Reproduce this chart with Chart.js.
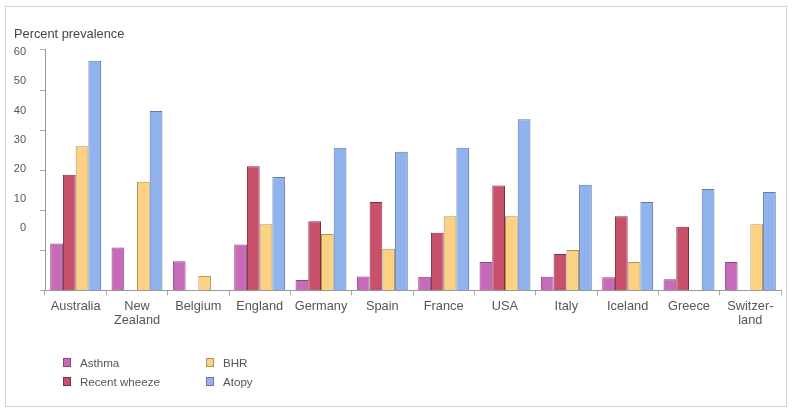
<!DOCTYPE html>
<html>
<head>
<meta charset="utf-8">
<script src="https://cdn.jsdelivr.net/npm/chart.js@4/dist/chart.umd.min.js"></script>
<style>
  html, body { margin: 0; padding: 0; background: #fff; }
  #wrap { position: relative; width: 796px; height: 412px; overflow: hidden; }
  #frame { position: absolute; left: 5px; top: 6px; width: 782px; height: 401px;
           border: 1px solid #d2d2d2; box-sizing: border-box; pointer-events: none; }
  canvas { position: absolute; left: 0; top: 0; }
  #legend { position: absolute; left: 0; top: 0; width: 796px; height: 412px; pointer-events: none;
            font-family: "Liberation Sans", Arial, sans-serif; font-size: 11.6px; color: #555; }
  .item { position: absolute; height: 13px; line-height: 13px; white-space: nowrap; }
  .box { position: absolute; left: 0; top: 2px; width: 8px; height: 9px; box-sizing: border-box; border: 1px solid; }
  .txt { position: absolute; left: 17px; top: 0; }
</style>
</head>
<body>
<div id="wrap">
  <canvas id="c" width="796" height="412"></canvas>
  <div id="frame"></div>
  <div id="legend"></div>
</div>
<script>
// Countries along the x axis
const countries = ['Australia', ['New', 'Zealand'], 'Belgium', 'England', 'Germany', 'Spain',
                   'France', 'USA', 'Italy', 'Iceland', 'Greece', ['Switzer-', 'land']];

// Percent prevalence per country (null = not measured)
const asthma       = [11.7, 10.7, 7.3, 11.5, 2.6, 3.5, 3.4, 7.1, 3.4, 3.3, 2.8, 7.1];
const recentWheeze = [28.9, null, null, 31.0, 17.3, 22.1, 14.4, 26.2, 9.1, 18.5, 15.9, null];
const bhr          = [36.0, 27.1, 3.6, 16.5, 14.1, 10.4, 18.5, 18.5, 10.1, 7.1, null, 16.5];
const atopy        = [57.3, 44.8, null, 28.3, 35.6, 34.6, 35.6, 42.7, 26.4, 22.1, 25.3, 24.6];

// Printed labels of the vertical axis
const yTickLabels = [0, 10, 20, 30, 40, 50, 60];

const seriesNames = ['Asthma', 'Recent wheeze', 'BHR', 'Atopy'];
const fills   = ['#c76aba', '#c8506b', '#fbd283', '#90b2ee'];
const strokes = ['#86467a', '#7c3143', '#b0935c', '#6379a8'];

const textColor = '#555';
const family = '"Liberation Sans", Arial, sans-serif';
const smallFont = { family, size: 11 };
const labelFont = { family, size: 12.8, lineHeight: 1.1 };

const seriesData = [asthma, recentWheeze, bhr, atopy];
const datasets = seriesNames.map((name, i) => ({
  label: name,
  data: seriesData[i],
  backgroundColor: fills[i],
  borderColor: strokes[i],
  borderWidth: 1,
  categoryPercentage: 0.83,
  barPercentage: 1.0
}));

const chart = new Chart(document.getElementById('c'), {
  type: 'bar',
  data: { labels: countries, datasets },
  options: {
    responsive: false,
    animation: false,
    devicePixelRatio: 1,
    layout: { padding: { left: 14, right: 15, top: 26.4, bottom: 81.5 } },
    plugins: {
      legend: { display: false },
      tooltip: { enabled: false },
      title: {
        display: true,
        text: 'Percent prevalence',
        align: 'start',
        color: '#444',
        font: { family, size: 12.8, weight: 'normal', lineHeight: 1.2 },
        padding: { top: 0, bottom: 8.2 }
      }
    },
    scales: {
      x: {
        grid: { display: true, drawOnChartArea: false, drawTicks: true, tickLength: 5, color: '#aaa', offset: true },
        border: { display: true, color: '#999' },
        ticks: { color: textColor, font: labelFont, padding: 4, maxRotation: 0, autoSkip: false },
        afterFit: s => { s.height = 40; }
      },
      y: {
        position: 'left',
        weight: 0,
        min: 0,
        max: 60,
        ticks: { stepSize: 10, display: false },
        grid: { display: true, drawOnChartArea: false, drawTicks: true, tickLength: 5, color: '#aaa' },
        border: { display: true, color: '#999' },
        afterFit: s => { s.width = 6; }
      },
      yl: {
        type: 'linear',
        position: 'left',
        weight: 1,
        min: -21.3,
        max: 60.7,
        grid: { display: false, drawTicks: false },
        border: { display: false },
        ticks: { color: textColor, font: smallFont, padding: 13 },
        afterBuildTicks: s => { s.ticks = yTickLabels.map(v => ({ value: v })); },
        afterFit: s => { s.width = 25; }
      }
    }
  }
});

// Legend built from the chart's datasets, two columns of two entries
const legendPos = [
  { left: 63, top: 356 }, { left: 63, top: 375 },
  { left: 206, top: 356 }, { left: 206, top: 375 }
];
const legendEl = document.getElementById('legend');
chart.data.datasets.forEach((ds, i) => {
  const item = document.createElement('div');
  item.className = 'item';
  item.style.left = legendPos[i].left + 'px';
  item.style.top = legendPos[i].top + 'px';
  const box = document.createElement('span');
  box.className = 'box';
  box.style.background = ds.backgroundColor;
  box.style.borderColor = ds.borderColor;
  const txt = document.createElement('span');
  txt.className = 'txt';
  txt.textContent = ds.label;
  item.appendChild(box);
  item.appendChild(txt);
  legendEl.appendChild(item);
});
</script>
</body>
</html>
